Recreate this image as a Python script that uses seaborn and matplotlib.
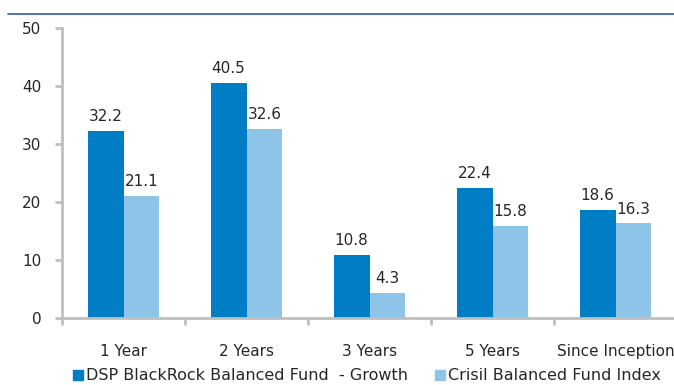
import pandas as pd
import matplotlib
matplotlib.use("Agg")
import matplotlib.pyplot as plt
import seaborn as sns
from matplotlib.lines import Line2D
from matplotlib.ticker import FixedLocator

periods = ["1 Year", "2 Years", "3 Years", "5 Years", "Since Inception"]
fund_name = "DSP BlackRock Balanced Fund  - Growth"
index_name = "Crisil Balanced Fund Index"
fund_returns = [32.2, 40.5, 10.8, 22.4, 18.6]
index_returns = [21.1, 32.6, 4.3, 15.8, 16.3]

dark_blue = "#007DC4"
light_blue = "#8EC4E8"
axis_grey = "#BFBFBF"
text_col = "#262626"

df = pd.DataFrame({
    "period": periods * 2,
    "series": [fund_name] * len(periods) + [index_name] * len(periods),
    "value": fund_returns + index_returns,
})

sns.set_style("white")
plt.rcParams["font.family"] = ["DejaVu Sans"]

fig = plt.figure(figsize=(6.74, 3.85), dpi=100)
ax = fig.add_axes([62 / 674, 67 / 385, 615 / 674, 290 / 385])

sns.barplot(data=df, x="period", y="value", hue="series",
            palette=[dark_blue, light_blue], width=0.585, gap=0,
            saturation=1, linewidth=0, ax=ax, legend=False)

for cont in ax.containers:
    ax.bar_label(cont, fmt="%.1f", padding=5, fontsize=11, color=text_col)

ax.set_xlim(-0.5, 4.5)
ax.set_ylim(0, 50)
ax.set_yticks([0, 10, 20, 30, 40, 50])
ax.set_xlabel("")
ax.set_ylabel("")

for side in ["top", "right"]:
    ax.spines[side].set_visible(False)
for side in ["left", "bottom"]:
    ax.spines[side].set_color(axis_grey)
    ax.spines[side].set_linewidth(2)

ax.tick_params(axis="y", left=True, length=5, width=2, color=axis_grey,
               pad=10, labelsize=11, labelcolor=text_col)
ax.tick_params(axis="x", which="major", bottom=True, length=0, pad=19,
               labelsize=11, labelcolor=text_col)
ax.xaxis.set_minor_locator(FixedLocator([-0.5, 0.5, 1.5, 2.5, 3.5, 4.5]))
ax.tick_params(axis="x", which="minor", bottom=True, length=5, width=2,
               color=axis_grey)

# thin blue rule at the top
fig.add_artist(Line2D([8 / 674, 1], [1 - 14 / 385, 1 - 14 / 385],
                      color="#2F5C9E", linewidth=1.2))

handles = [Line2D([], [], marker="s", linestyle="", markersize=7,
                  color=c) for c in [dark_blue, light_blue]]
fig.legend(handles, [fund_name, index_name], loc="center left",
           bbox_to_anchor=(72 / 674, 1 - 376 / 385), ncol=2, frameon=False,
           fontsize=11.5, handletextpad=0.15, columnspacing=1.7,
           handlelength=0.7, borderaxespad=0, borderpad=0,
           labelcolor=text_col)

fig.savefig("out.png", dpi=100)
